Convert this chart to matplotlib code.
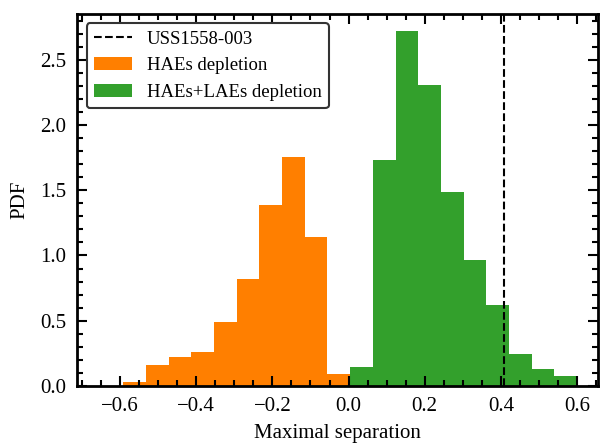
import matplotlib
matplotlib.use("Agg")
import matplotlib.pyplot as plt
import numpy as np
from matplotlib.ticker import MultipleLocator

# bin edges shared by both histograms
EDGES = [-0.591, -0.5315, -0.472, -0.4125, -0.353, -0.2935, -0.234, -0.1745,
         -0.115, -0.0555, 0.0045, 0.064, 0.1235, 0.183, 0.2425, 0.302,
         0.3615, 0.421, 0.4805, 0.540, 0.600]

HAE_PDF = [0.031, 0.161, 0.222, 0.262, 0.490, 0.821, 1.385, 1.754, 1.140, 0.092]
HAE_LAE_PDF = [0.148, 1.729, 2.716, 2.303, 1.484, 0.964, 0.620, 0.247, 0.130, 0.077]

USS1558_SEP = 0.409

plt.rcParams["font.family"] = ["Liberation Serif", "DejaVu Serif"]
plt.rcParams["mathtext.fontset"] = "stix"

fig = plt.figure(figsize=(6.01, 4.44), dpi=100)
ax = fig.add_axes([0.1286, 0.1306, 0.8672, 0.8379])

edges = np.array(EDGES)
widths = np.diff(edges)

ax.axvline(USS1558_SEP, color="black", linestyle="--", linewidth=1.5,
           label="USS1558-003", zorder=3)
ax.bar(edges[:10], HAE_PDF, width=widths[:10], align="edge",
       color="#ff7f00", label="HAEs depletion")
ax.bar(edges[10:-1], HAE_LAE_PDF, width=widths[10:], align="edge",
       color="#33a02c", label="HAEs+LAEs depletion")

ax.set_xlim(-0.712, 0.656)
ax.set_ylim(0, 2.85)
ax.set_xlabel("Maximal separation", fontsize=15, labelpad=6)
ax.set_ylabel("PDF", fontsize=15, labelpad=8)

ax.xaxis.set_major_locator(MultipleLocator(0.2))
ax.xaxis.set_minor_locator(MultipleLocator(0.05))
ax.yaxis.set_major_locator(MultipleLocator(0.5))
ax.yaxis.set_minor_locator(MultipleLocator(0.1))
ax.tick_params(which="both", direction="in", top=True, right=True,
               labelsize=15, width=1.5, pad=8)
ax.tick_params(which="major", length=7)
ax.tick_params(which="minor", length=4)
for sp in ax.spines.values():
    sp.set_linewidth(2)

leg = ax.legend(loc="upper left", fontsize=13.5, fancybox=True, framealpha=1,
                edgecolor="#333333", borderaxespad=0.5)
leg.get_frame().set_linewidth(1.5)

fig.savefig("out.png", dpi=100)
